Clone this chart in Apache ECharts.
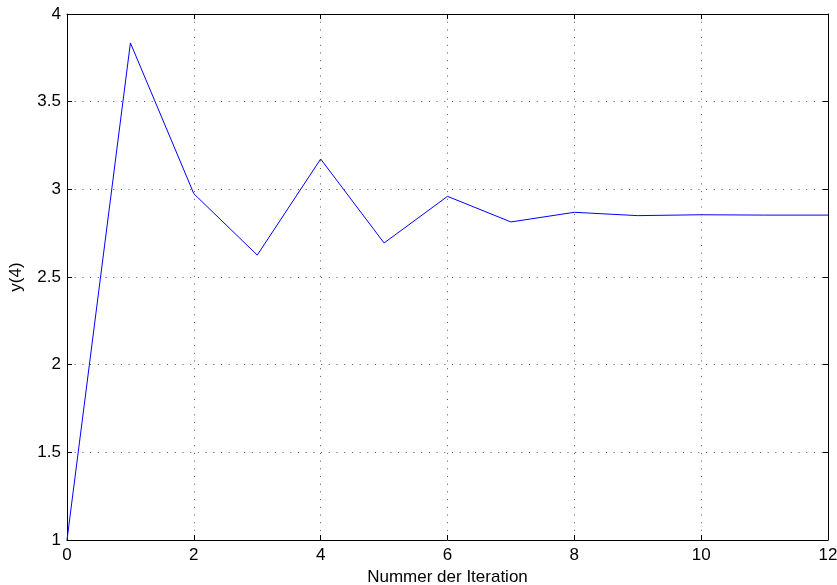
<!DOCTYPE html>
<html>
<head>
<meta charset="utf-8">
<script src="https://cdn.jsdelivr.net/npm/echarts@6/dist/echarts.min.js"></script>
<style>
  html, body { margin: 0; padding: 0; background: #fff; }
  #chart { width: 837px; height: 585px; }
</style>
</head>
<body>
<div id="chart"></div>
<script>
// Iterationen und Werte von y(4)
const iterations = [0, 1, 2, 3, 4, 5, 6, 7, 8, 9, 10, 11, 12];
const y4 = [1.0, 3.835, 2.975, 2.625, 3.173, 2.694, 2.960, 2.814, 2.869, 2.850, 2.855, 2.853, 2.853];

const FONT = "'Liberation Sans', Arial, Helvetica, sans-serif";
const dotted = { color: '#555', width: 1, type: [1, 6.7] };

const chart = echarts.init(document.getElementById('chart'));

const axisBase = {
  axisLine: { show: true, onZero: false, lineStyle: { color: '#000', width: 1 } },
  axisTick: { show: true, inside: true, length: 5, lineStyle: { color: '#000' } },
};

chart.setOption({
  animation: false,
  grid: { left: 67, right: 9, top: 14, bottom: 45, containLabel: false, outerBoundsMode: 'none' },
  xAxis: [
    {
      type: 'value', min: 0, max: 12, interval: 2,
      name: 'Nummer der Iteration', nameLocation: 'middle', nameGap: 29,
      nameTextStyle: { color: '#000', fontSize: 17, fontFamily: FONT },
      ...axisBase,
      axisLabel: { color: '#000', fontSize: 17, fontFamily: FONT, margin: 7 },
      splitLine: { show: true, lineStyle: dotted },
    },
    {
      type: 'value', min: 0, max: 12, interval: 2, position: 'top',
      ...axisBase,
      axisLabel: { show: false },
      splitLine: { show: false },
    },
  ],
  yAxis: [
    {
      type: 'value', min: 1, max: 4, interval: 0.5,
      name: 'y(4)', nameLocation: 'middle', nameGap: 42,
      nameTextStyle: { color: '#000', fontSize: 17, fontFamily: FONT },
      ...axisBase,
      axisLabel: { color: '#000', fontSize: 17, fontFamily: FONT, margin: 6 },
      splitLine: { show: true, lineStyle: dotted },
    },
    {
      type: 'value', min: 1, max: 4, interval: 0.5, position: 'right',
      ...axisBase,
      axisLabel: { show: false },
      splitLine: { show: false },
    },
  ],
  series: [{
    type: 'line',
    data: iterations.map((x, i) => [x, y4[i]]),
    symbol: 'none',
    lineStyle: { color: '#0000ff', width: 1 },
  }],
});
</script>
</body>
</html>
